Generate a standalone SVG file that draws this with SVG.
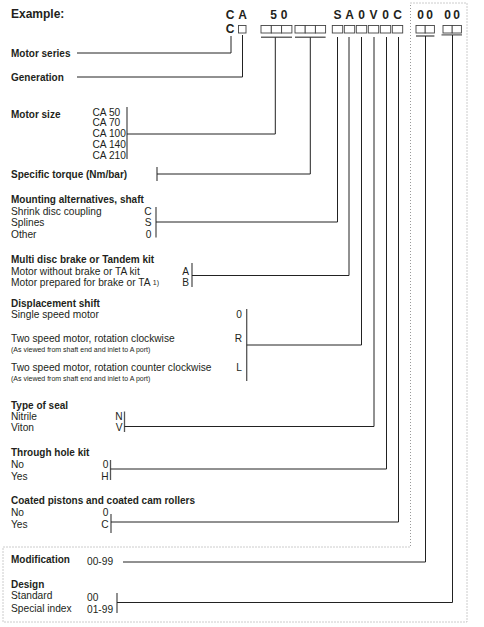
<svg xmlns="http://www.w3.org/2000/svg" width="484" height="627" viewBox="0 0 484 627">
<style>
text{font-family:"Liberation Sans",Arial,Helvetica,sans-serif;fill:#231f20}
.h{font-size:10px;font-weight:bold}
.t{font-size:10.2px}
.s{font-size:7px}
.big{font-size:12px;font-weight:bold}
.m{text-anchor:middle}
.r{text-anchor:end}
.ln{stroke:#222;stroke-width:1;fill:none}
.bar{stroke:#555;stroke-width:1.3;fill:none}
.ul{stroke:#666;stroke-width:1.4;fill:none}
.box{stroke:#444;stroke-width:0.9;fill:#fff}
.dot{stroke:#999;stroke-width:1;fill:none;stroke-dasharray:1 2}
</style>
<rect width="484" height="627" fill="#fff"/>
<polygon class="dot" points="410.5,3 467,3 467,622 3,622 3,547 410.5,547"/>
<g id="header">
<text class="big" x="11" y="18">Example:</text>
<text class="big m" x="230" y="18.5">C</text>
<text class="big m" x="242.5" y="18.5">A</text>
<text class="big m" x="273.5" y="18.5">5</text>
<text class="big m" x="284" y="18.5">0</text>
<text class="big m" x="337.5" y="18.5">S</text>
<text class="big m" x="349.5" y="18.5">A</text>
<text class="big m" x="361.5" y="18.5">0</text>
<text class="big m" x="373.5" y="18.5">V</text>
<text class="big m" x="385.5" y="18.5">0</text>
<text class="big m" x="397.5" y="18.5">C</text>
<text class="big m" x="420.5" y="18.5">0</text>
<text class="big m" x="429.5" y="18.5">0</text>
<text class="big m" x="447.5" y="18.5">0</text>
<text class="big m" x="456.5" y="18.5">0</text>
<text class="big m" x="230" y="33">C</text>
<rect class="box" x="238.5" y="25.5" width="7.5" height="7.5"/>
<rect class="box" x="261" y="25.5" width="10.3" height="7.5"/>
<rect class="box" x="271.3" y="25.5" width="10.3" height="7.5"/>
<rect class="box" x="281.6" y="25.5" width="10.3" height="7.5"/>
<rect class="box" x="295" y="25.5" width="10.2" height="7.5"/>
<rect class="box" x="305.2" y="25.5" width="10.2" height="7.5"/>
<rect class="box" x="315.4" y="25.5" width="10.2" height="7.5"/>
<rect class="box" x="332.3" y="25.5" width="10.4" height="7.5"/>
<rect class="box" x="344.3" y="25.5" width="10.4" height="7.5"/>
<rect class="box" x="356.3" y="25.5" width="10.4" height="7.5"/>
<rect class="box" x="368.3" y="25.5" width="10.4" height="7.5"/>
<rect class="box" x="380.3" y="25.5" width="10.4" height="7.5"/>
<rect class="box" x="392.3" y="25.5" width="10.4" height="7.5"/>
<rect class="box" x="416" y="25.5" width="9.2" height="7.5"/>
<rect class="box" x="425.2" y="25.5" width="9.2" height="7.5"/>
<rect class="box" x="443" y="25.5" width="9.2" height="7.5"/>
<rect class="box" x="452.2" y="25.5" width="9.2" height="7.5"/>
<path class="ul" d="M261 37.3H292M295 37.3H325.6M416 36H434.4"/>
<path class="ul" d="M441.5 34.8H462" style="stroke:#888;stroke-width:1.8"/>
</g>
<g id="motor-series"><text class="h" x="11" y="56.5">Motor series</text></g>
<g id="generation"><text class="h" x="11" y="80.5">Generation</text></g>
<g id="motor-size">
<text class="h" x="11" y="117.5">Motor size</text>
<text class="t" x="92.5" y="115.5">CA 50</text>
<text class="t" x="92.5" y="126.3">CA 70</text>
<text class="t" x="92.5" y="137">CA 100</text>
<text class="t" x="92.5" y="147.7">CA 140</text>
<text class="t" x="92.5" y="158.5">CA 210</text>
<path class="bar" d="M127 107V159"/>
</g>
<g id="specific-torque">
<text class="h" x="11" y="178">Specific torque (Nm/bar)</text>
<path class="bar" d="M157 167V181"/>
</g>
<g id="mounting">
<text class="h" x="11" y="202.5">Mounting alternatives, shaft</text>
<text class="t" x="11" y="214.5">Shrink disc coupling</text>
<text class="t" x="11" y="226.3">Splines</text>
<text class="t" x="11" y="238">Other</text>
<text class="t r" x="151.5" y="214.5">C</text>
<text class="t r" x="151.5" y="226.3">S</text>
<text class="t r" x="151.5" y="238">0</text>
<path class="bar" d="M156 207V237.5"/>
</g>
<g id="brake">
<text class="h" x="11" y="262.5">Multi disc brake or Tandem kit</text>
<text class="t" x="11" y="274.5">Motor without brake or TA kit</text>
<text class="t" x="11" y="285.8">Motor prepared for brake or TA <tspan class="s" dy="-0.5">1)</tspan></text>
<text class="t r" x="189" y="274.5">A</text>
<text class="t r" x="189" y="285.8">B</text>
<path class="bar" d="M192 263V287"/>
</g>
<g id="displacement">
<text class="h" x="11" y="306.5">Displacement shift</text>
<text class="t" x="11" y="317.7">Single speed motor</text>
<text class="t" x="11" y="341.8">Two speed motor, rotation clockwise</text>
<text class="s" x="11" y="352">(As viewed from shaft end and inlet to A port)</text>
<text class="t" x="11" y="370.8">Two speed motor, rotation counter clockwise</text>
<text class="s" x="11" y="380.8">(As viewed from shaft end and inlet to A port)</text>
<text class="t r" x="242" y="317.7">0</text>
<text class="t r" x="242" y="341.8">R</text>
<text class="t r" x="242" y="370.8">L</text>
<path class="bar" d="M246.7 309V381"/>
</g>
<g id="seal">
<text class="h" x="11" y="408.5">Type of seal</text>
<text class="t" x="11" y="419.8">Nitrile</text>
<text class="t" x="11" y="431.3">Viton</text>
<text class="t r" x="122.5" y="419.8">N</text>
<text class="t r" x="122.5" y="431.3">V</text>
<path class="bar" d="M124.5 411.5V432"/>
</g>
<g id="through-hole">
<text class="h" x="11" y="456">Through hole kit</text>
<text class="t" x="11" y="467.7">No</text>
<text class="t" x="11" y="479.5">Yes</text>
<text class="t r" x="108.5" y="467.7">0</text>
<text class="t r" x="108.5" y="479.5">H</text>
<path class="bar" d="M110.5 460V480"/>
</g>
<g id="coated">
<text class="h" x="11" y="504" textLength="184" lengthAdjust="spacingAndGlyphs">Coated pistons and coated cam rollers</text>
<text class="t" x="11" y="515.7">No</text>
<text class="t" x="11" y="527.5">Yes</text>
<text class="t r" x="108.5" y="515.7">0</text>
<text class="t r" x="108.5" y="527.5">C</text>
<path class="bar" d="M111 514V533"/>
</g>
<g id="modification">
<text class="h" x="11" y="562.5">Modification</text>
<text class="t" x="87" y="565">00-99</text>
</g>
<g id="design">
<text class="h" x="11" y="587.5">Design</text>
<text class="t" x="11" y="598.5">Standard</text>
<text class="t" x="11" y="611.5">Special index</text>
<text class="t" x="87" y="601">00</text>
<text class="t" x="87" y="612.5">01-99</text>
<path class="bar" d="M117 593V613"/>
</g>
<g id="connectors">
<path class="ln" d="M231 36V53H77"/>
<path class="ln" d="M242.5 35V77H77"/>
<path class="ln" d="M275.3 37.3V134H127"/>
<path class="ln" d="M310.3 37.3V174H157"/>
<path class="ln" d="M337.5 37V222H156"/>
<path class="ln" d="M349 37V275.5H192"/>
<path class="ln" d="M361.5 37V345H246.7"/>
<path class="ln" d="M374 37V426.5H124.5"/>
<path class="ln" d="M386.5 37V469H110.5"/>
<path class="ln" d="M398.5 37V522H111"/>
<path class="ln" d="M425.5 36V562H123"/>
<path class="ln" d="M452.5 35V602.5H117"/>
</g>
</svg>
